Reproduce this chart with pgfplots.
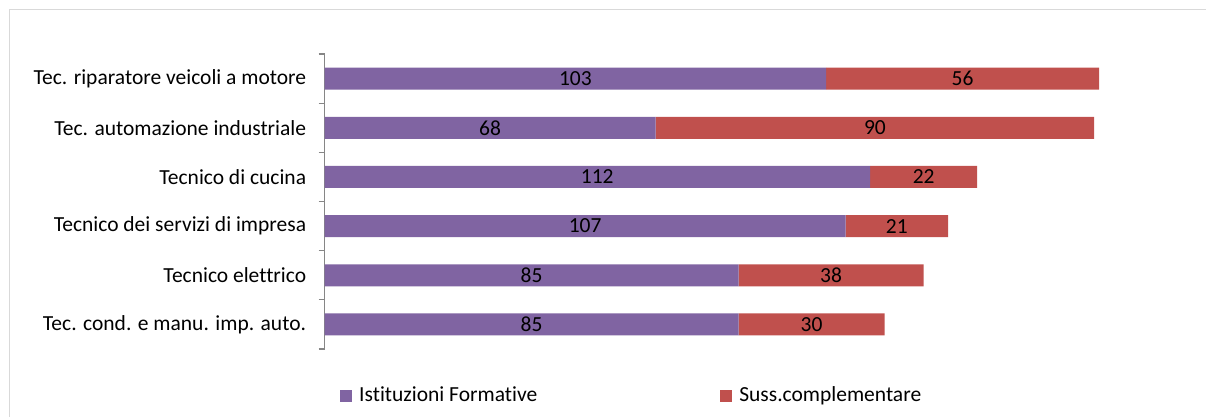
\documentclass[border=0pt]{standalone}
\usepackage{pgfplots}
\pgfplotsset{compat=1.18}
\usepackage{pgfplotstable}
\usepackage{fontspec}
\setmainfont{Carlito}[Ligatures=NoCommon]
\definecolor{cpurple}{HTML}{8064A2}
\definecolor{cred}{HTML}{C0504D}
\definecolor{caxis}{HTML}{868686}
\definecolor{cborder}{HTML}{D9D9D9}
\pgfplotstableread{
y v
0 85
1 85
2 107
3 112
4 68
5 103
}\istituzioni
\pgfplotstableread{
y v
0 30
1 38
2 21
3 22
4 90
5 56
}\suss
\begin{document}
\fontsize{21.5pt}{26pt}\selectfont
\begin{tikzpicture}[x=1pt,y=1pt]
\useasboundingbox (0,0) rectangle (1206,416);
\draw[cborder, line width=1pt] (9.5,-5) -- (9.5,406.5) -- (1215,406.5);
\begin{axis}[
  at={(324.5pt,67pt)}, anchor=south west,
  scale only axis, width=876.8pt, height=295pt,
  xmin=0, xmax=180,
  ymin=-0.5, ymax=5.5,
  xbar stacked, bar width=22pt,
  axis y line*=left, axis x line=none,
  xtick=\empty,
  /pgf/number format/assume math mode=true,
  y axis line style={caxis, line width=1.3pt, -},
  ytick={0,...,5},
  yticklabels={Tec. cond. e manu. imp. auto., Tecnico elettrico, Tecnico dei servizi di impresa, Tecnico di cucina, Tec. automazione industriale, Tec. riparatore veicoli a motore},
  yticklabel style={font=\fontsize{21.5pt}{26pt}\selectfont, anchor=east, xshift=-11pt},
  major tick length=0pt,
  minor ytick={-0.5,0.5,...,5.5},
  minor tick length=6pt,
  tick align=outside,
  minor tick style={caxis, line width=1.3pt},
  nodes near coords,
  point meta=explicit,
  every node near coord/.append style={anchor=center, font=\fontsize{21.5pt}{26pt}\selectfont, text=black},
  legend style={at={(0.0177,-0.159)}, anchor=west, draw=none, fill=none, inner sep=0pt,
    font=\fontsize{21.5pt}{26pt}\selectfont,
    /tikz/every odd column/.append style={column sep=5pt},
    /tikz/every even column/.append style={column sep=181pt}},
  legend columns=2,
  legend image code/.code={\fill[#1] (0pt,-6pt) rectangle (12pt,6pt);},
]
\addplot[fill=cpurple, draw=none] table[x=v, y=y, meta=v] {\istituzioni};
\addplot[fill=cred, draw=none] table[x=v, y=y, meta=v] {\suss};
\legend{Istituzioni Formative, Suss.complementare}
\end{axis}
\end{tikzpicture}
\end{document}
